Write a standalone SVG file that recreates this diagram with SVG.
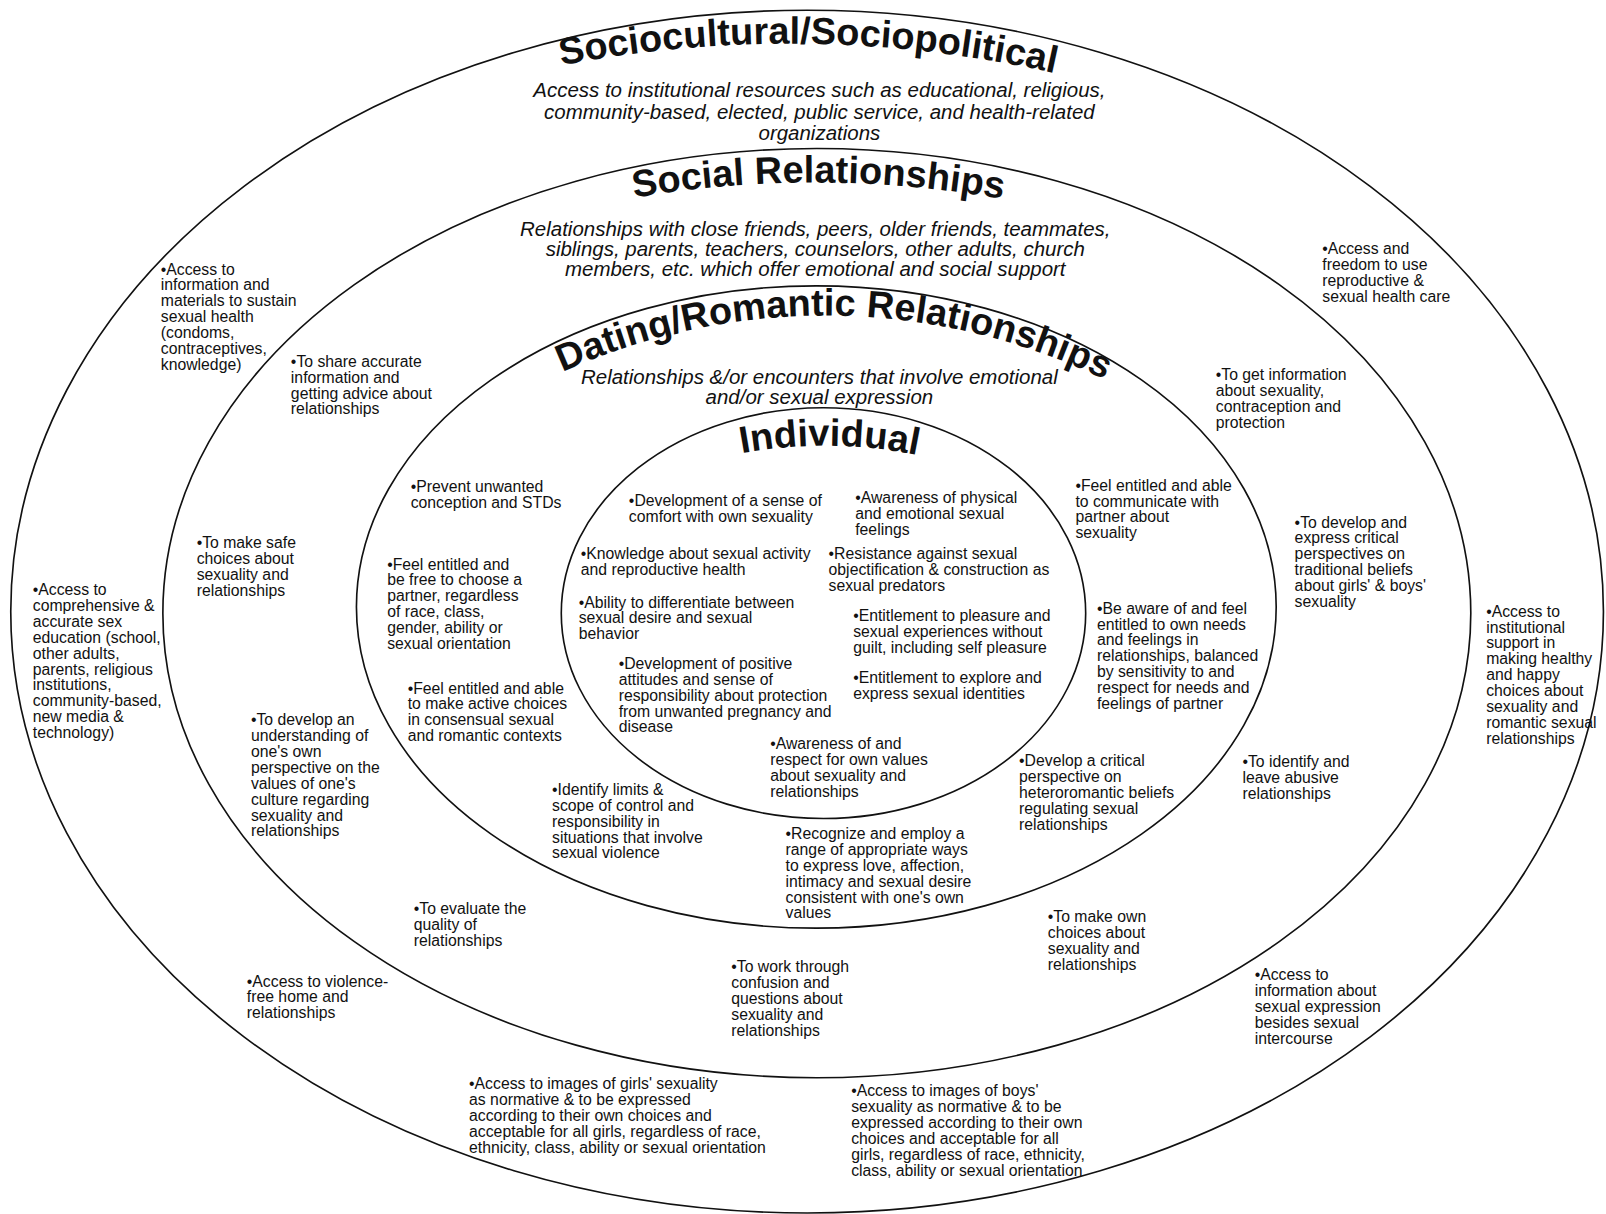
<svg xmlns="http://www.w3.org/2000/svg" width="1606" height="1214" viewBox="0 0 1606 1214">
<defs>
<style>
.e{fill:none;stroke:#111;stroke-width:1.6}
.t{font-family:"Liberation Sans",Arial,sans-serif;font-weight:bold;font-size:37px;fill:#111}
.d{font-family:"Liberation Sans",Arial,sans-serif;font-style:italic;font-size:20px;fill:#111;text-anchor:middle}
.b{font-family:"Liberation Sans",Arial,sans-serif;font-size:15.4px;fill:#111}
</style>
<path id="pSocio" d="M548,63.7 A1183,1183 0 0 1 1120,95.5"/>
<path id="pSocial" d="M619,193 A1050,1050 0 0 1 1100,223.3"/>
<path id="pDating" d="M549,363.2 A626,626 0 0 1 1130,398.4"/>
<path id="pIndiv" d="M724,442.4 A450,450 0 0 1 960,462.5"/>
</defs>
<rect width="1606" height="1214" fill="#fff"/>
<g transform="scale(1.02423 1.02447)">
<g id="ring-sociocultural">
<ellipse class="e" cx="788" cy="597" rx="777.5" ry="587"/>
<text class="t"><textPath href="#pSocio">Sociocultural/Sociopolitical</textPath></text>
<text class="d" x="800" y="95">Access to institutional resources such as educational, religious,<tspan x="800" dy="20.7">community-based, elected, public service, and health-related</tspan><tspan x="800" dy="20.7">organizations</tspan></text>
</g>
<g id="ring-social">
<ellipse class="e" cx="797.5" cy="598.5" rx="638.5" ry="453.5"/>
<text class="t"><textPath href="#pSocial">Social Relationships</textPath></text>
<text class="d" x="796" y="230.5">Relationships with close friends, peers, older friends, teammates,<tspan x="796" dy="19.4">siblings, parents, teachers, counselors, other adults, church</tspan><tspan x="796" dy="19.4">members, etc. which offer emotional and social support</tspan></text>
</g>
<g id="ring-dating">
<ellipse class="e" cx="797" cy="592.5" rx="449" ry="313.5"/>
<text class="t"><textPath href="#pDating">Dating/Romantic Relationships</textPath></text>
<text class="d" x="800" y="375">Relationships &amp;/or encounters that involve emotional<tspan x="800" dy="19.5">and/or sexual expression</tspan></text>
</g>
<g id="ring-individual">
<ellipse class="e" cx="804" cy="598.5" rx="256" ry="200.5"/>
<text class="t"><textPath href="#pIndiv">Individual</textPath></text>
</g>

<g id="n-socio-materials"><text class="b" x="157" y="268">•Access to<tspan x="157" dy="15.5">information and</tspan><tspan x="157" dy="15.5">materials to sustain</tspan><tspan x="157" dy="15.5">sexual health</tspan><tspan x="157" dy="15.5">(condoms,</tspan><tspan x="157" dy="15.5">contraceptives,</tspan><tspan x="157" dy="15.5">knowledge)</tspan></text></g>
<g id="n-socio-healthcare"><text class="b" x="1291" y="248">•Access and<tspan x="1291" dy="15.5">freedom to use</tspan><tspan x="1291" dy="15.5">reproductive &amp;</tspan><tspan x="1291" dy="15.5">sexual health care</tspan></text></g>
<g id="n-socio-sexed"><text class="b" x="32" y="581">•Access to<tspan x="32" dy="15.5">comprehensive &amp;</tspan><tspan x="32" dy="15.5">accurate sex</tspan><tspan x="32" dy="15.5">education (school,</tspan><tspan x="32" dy="15.5">other adults,</tspan><tspan x="32" dy="15.5">parents, religious</tspan><tspan x="32" dy="15.5">institutions,</tspan><tspan x="32" dy="15.5">community-based,</tspan><tspan x="32" dy="15.5">new media &amp;</tspan><tspan x="32" dy="15.5">technology)</tspan></text></g>
<g id="n-socio-support"><text class="b" x="1451" y="602">•Access to<tspan x="1451" dy="15.5">institutional</tspan><tspan x="1451" dy="15.5">support in</tspan><tspan x="1451" dy="15.5">making healthy</tspan><tspan x="1451" dy="15.5">and happy</tspan><tspan x="1451" dy="15.5">choices about</tspan><tspan x="1451" dy="15.5">sexuality and</tspan><tspan x="1451" dy="15.5">romantic sexual</tspan><tspan x="1451" dy="15.5">relationships</tspan></text></g>
<g id="n-socio-violence"><text class="b" x="241" y="963">•Access to violence-<tspan x="241" dy="15.5">free home and</tspan><tspan x="241" dy="15.5">relationships</tspan></text></g>
<g id="n-socio-expression"><text class="b" x="1225" y="957">•Access to<tspan x="1225" dy="15.5">information about</tspan><tspan x="1225" dy="15.5">sexual expression</tspan><tspan x="1225" dy="15.5">besides sexual</tspan><tspan x="1225" dy="15.5">intercourse</tspan></text></g>
<g id="n-socio-girls"><text class="b" x="458" y="1063">•Access to images of girls' sexuality<tspan x="458" dy="15.5">as normative &amp; to be expressed</tspan><tspan x="458" dy="15.5">according to their own choices and</tspan><tspan x="458" dy="15.5">acceptable for all girls, regardless of race,</tspan><tspan x="458" dy="15.5">ethnicity, class, ability or sexual orientation</tspan></text></g>
<g id="n-socio-boys"><text class="b" x="831" y="1070">•Access to images of boys'<tspan x="831" dy="15.5">sexuality as normative &amp; to be</tspan><tspan x="831" dy="15.5">expressed according to their own</tspan><tspan x="831" dy="15.5">choices and acceptable for all</tspan><tspan x="831" dy="15.5">girls, regardless of race, ethnicity,</tspan><tspan x="831" dy="15.5">class, ability or sexual orientation</tspan></text></g>

<g id="n-social-share"><text class="b" x="284" y="358">•To share accurate<tspan x="284" dy="15.5">information and</tspan><tspan x="284" dy="15.5">getting advice about</tspan><tspan x="284" dy="15.5">relationships</tspan></text></g>
<g id="n-social-info"><text class="b" x="1187" y="371">•To get information<tspan x="1187" dy="15.5">about sexuality,</tspan><tspan x="1187" dy="15.5">contraception and</tspan><tspan x="1187" dy="15.5">protection</tspan></text></g>
<g id="n-social-safe"><text class="b" x="192" y="535">•To make safe<tspan x="192" dy="15.5">choices about</tspan><tspan x="192" dy="15.5">sexuality and</tspan><tspan x="192" dy="15.5">relationships</tspan></text></g>
<g id="n-social-critical"><text class="b" x="1264" y="515">•To develop and<tspan x="1264" dy="15.5">express critical</tspan><tspan x="1264" dy="15.5">perspectives on</tspan><tspan x="1264" dy="15.5">traditional beliefs</tspan><tspan x="1264" dy="15.5">about girls' &amp; boys'</tspan><tspan x="1264" dy="15.5">sexuality</tspan></text></g>
<g id="n-social-understanding"><text class="b" x="245" y="708">•To develop an<tspan x="245" dy="15.5">understanding of</tspan><tspan x="245" dy="15.5">one's own</tspan><tspan x="245" dy="15.5">perspective on the</tspan><tspan x="245" dy="15.5">values of one's</tspan><tspan x="245" dy="15.5">culture regarding</tspan><tspan x="245" dy="15.5">sexuality and</tspan><tspan x="245" dy="15.5">relationships</tspan></text></g>
<g id="n-social-abusive"><text class="b" x="1213" y="749">•To identify and<tspan x="1213" dy="15.5">leave abusive</tspan><tspan x="1213" dy="15.5">relationships</tspan></text></g>
<g id="n-social-evaluate"><text class="b" x="404" y="892">•To evaluate the<tspan x="404" dy="15.5">quality of</tspan><tspan x="404" dy="15.5">relationships</tspan></text></g>
<g id="n-social-own"><text class="b" x="1023" y="900">•To make own<tspan x="1023" dy="15.5">choices about</tspan><tspan x="1023" dy="15.5">sexuality and</tspan><tspan x="1023" dy="15.5">relationships</tspan></text></g>
<g id="n-social-confusion"><text class="b" x="714" y="949">•To work through<tspan x="714" dy="15.5">confusion and</tspan><tspan x="714" dy="15.5">questions about</tspan><tspan x="714" dy="15.5">sexuality and</tspan><tspan x="714" dy="15.5">relationships</tspan></text></g>

<g id="n-dating-prevent"><text class="b" x="401" y="480">•Prevent unwanted<tspan x="401" dy="15.5">conception and STDs</tspan></text></g>
<g id="n-dating-communicate"><text class="b" x="1050" y="479">•Feel entitled and able<tspan x="1050" dy="15.5">to communicate with</tspan><tspan x="1050" dy="15.5">partner about</tspan><tspan x="1050" dy="15.5">sexuality</tspan></text></g>
<g id="n-dating-choose"><text class="b" x="378" y="556">•Feel entitled and<tspan x="378" dy="15.5">be free to choose a</tspan><tspan x="378" dy="15.5">partner, regardless</tspan><tspan x="378" dy="15.5">of race, class,</tspan><tspan x="378" dy="15.5">gender, ability or</tspan><tspan x="378" dy="15.5">sexual orientation</tspan></text></g>
<g id="n-dating-needs"><text class="b" x="1071" y="599">•Be aware of and feel<tspan x="1071" dy="15.5">entitled to own needs</tspan><tspan x="1071" dy="15.5">and feelings in</tspan><tspan x="1071" dy="15.5">relationships, balanced</tspan><tspan x="1071" dy="15.5">by sensitivity to and</tspan><tspan x="1071" dy="15.5">respect for needs and</tspan><tspan x="1071" dy="15.5">feelings of partner</tspan></text></g>
<g id="n-dating-active"><text class="b" x="398" y="677">•Feel entitled and able<tspan x="398" dy="15.5">to make active choices</tspan><tspan x="398" dy="15.5">in consensual sexual</tspan><tspan x="398" dy="15.5">and romantic contexts</tspan></text></g>
<g id="n-dating-limits"><text class="b" x="539" y="776">•Identify limits &amp;<tspan x="539" dy="15.5">scope of control and</tspan><tspan x="539" dy="15.5">responsibility in</tspan><tspan x="539" dy="15.5">situations that involve</tspan><tspan x="539" dy="15.5">sexual violence</tspan></text></g>
<g id="n-dating-heteroromantic"><text class="b" x="995" y="748">•Develop a critical<tspan x="995" dy="15.5">perspective on</tspan><tspan x="995" dy="15.5">heteroromantic beliefs</tspan><tspan x="995" dy="15.5">regulating sexual</tspan><tspan x="995" dy="15.5">relationships</tspan></text></g>
<g id="n-dating-express"><text class="b" x="767" y="819">•Recognize and employ a<tspan x="767" dy="15.5">range of appropriate ways</tspan><tspan x="767" dy="15.5">to express love, affection,</tspan><tspan x="767" dy="15.5">intimacy and sexual desire</tspan><tspan x="767" dy="15.5">consistent with one's own</tspan><tspan x="767" dy="15.5">values</tspan></text></g>

<g id="n-ind-comfort"><text class="b" x="614" y="494">•Development of a sense of<tspan x="614" dy="15.5">comfort with own sexuality</tspan></text></g>
<g id="n-ind-awareness"><text class="b" x="835" y="491">•Awareness of physical<tspan x="835" dy="15.5">and emotional sexual</tspan><tspan x="835" dy="15.5">feelings</tspan></text></g>
<g id="n-ind-knowledge"><text class="b" x="567" y="546">•Knowledge about sexual activity<tspan x="567" dy="15.5">and reproductive health</tspan></text></g>
<g id="n-ind-resistance"><text class="b" x="809" y="546">•Resistance against sexual<tspan x="809" dy="15.5">objectification &amp; construction as</tspan><tspan x="809" dy="15.5">sexual predators</tspan></text></g>
<g id="n-ind-ability"><text class="b" x="565" y="593">•Ability to differentiate between<tspan x="565" dy="15.5">sexual desire and sexual</tspan><tspan x="565" dy="15.5">behavior</tspan></text></g>
<g id="n-ind-pleasure"><text class="b" x="833" y="606">•Entitlement to pleasure and<tspan x="833" dy="15.5">sexual experiences without</tspan><tspan x="833" dy="15.5">guilt, including self pleasure</tspan></text></g>
<g id="n-ind-positive"><text class="b" x="604" y="653">•Development of positive<tspan x="604" dy="15.5">attitudes and sense of</tspan><tspan x="604" dy="15.5">responsibility about protection</tspan><tspan x="604" dy="15.5">from unwanted pregnancy and</tspan><tspan x="604" dy="15.5">disease</tspan></text></g>
<g id="n-ind-identities"><text class="b" x="833" y="667">•Entitlement to explore and<tspan x="833" dy="15.5">express sexual identities</tspan></text></g>
<g id="n-ind-values"><text class="b" x="752" y="731">•Awareness of and<tspan x="752" dy="15.5">respect for own values</tspan><tspan x="752" dy="15.5">about sexuality and</tspan><tspan x="752" dy="15.5">relationships</tspan></text></g>
</g>
</svg>
